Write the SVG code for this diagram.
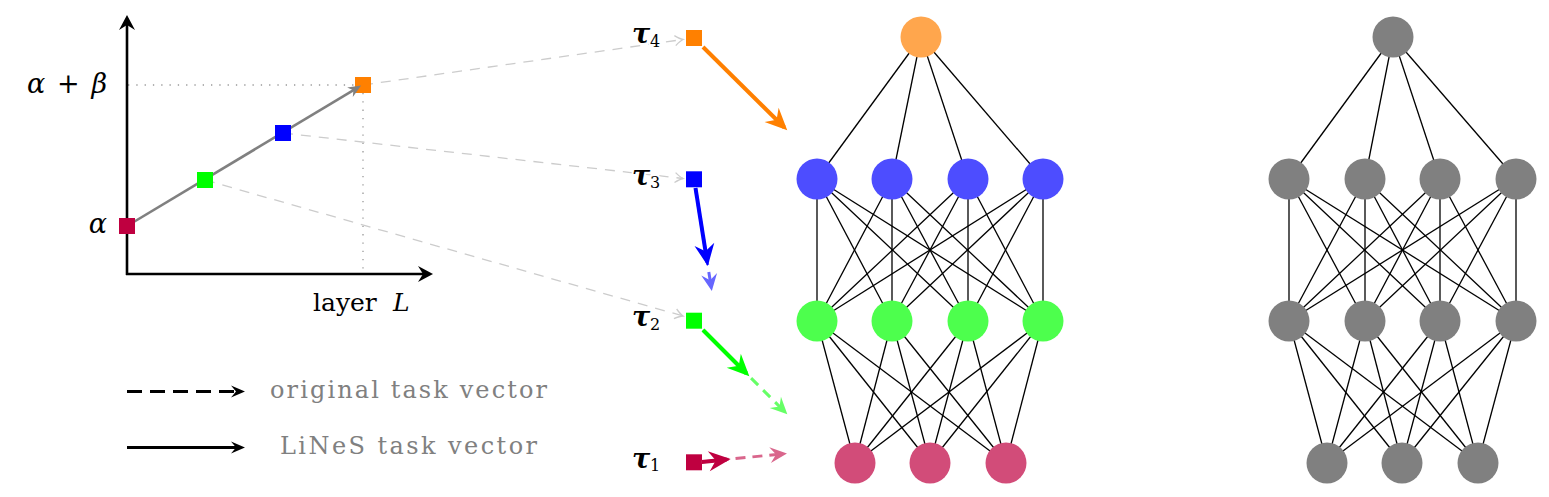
<svg xmlns="http://www.w3.org/2000/svg" width="1549" height="497" viewBox="0 0 1549 497">
<style>
text{font-family:"DejaVu Serif","Liberation Serif",serif;}
.math{font-style:italic;font-size:27px;fill:#000;}
.lbl{font-size:25px;fill:#000;}
.leg{font-size:24px;fill:#808080;}
.tau{font-style:italic;font-weight:bold;font-size:27px;fill:#000;stroke:#fff;stroke-width:4px;paint-order:stroke;stroke-linejoin:round;}
.sub{font-style:normal;font-weight:normal;font-size:16px;}
.dot{stroke:#999;stroke-width:1.3;stroke-dasharray:1.3 7;fill:none;}
.conn{stroke:#ccc;stroke-width:1.3;stroke-dasharray:10 8;fill:none;marker-end:url(#chev);}
.axis{stroke:#000;stroke-width:2.6;fill:none;marker-end:url(#headK);}
.e{stroke:#000;stroke-width:1.3;}
.nb{fill:#4D4DFF;}.ng{fill:#4DFF4D;}.np{fill:#D24C79;}.no{fill:#FFA64D;}.nx{fill:#808080;}
</style>
<defs>
<marker id="headK" viewBox="-20 -10 22 20" refX="-4" refY="0" markerWidth="22" markerHeight="20" markerUnits="userSpaceOnUse" orient="auto"><path d="M0,0 L-15,-8 L-10,0 L-15,8 Z" fill="#000"/></marker>
<marker id="headL" viewBox="-20 -10 22 20" refX="-4" refY="0" markerWidth="22" markerHeight="20" markerUnits="userSpaceOnUse" orient="auto"><path d="M0,0 L-14,-6 L-9,0 L-14,6 Z" fill="#000"/></marker>
<marker id="headG" viewBox="-20 -10 22 20" refX="-4" refY="0" markerWidth="22" markerHeight="20" markerUnits="userSpaceOnUse" orient="auto"><path d="M0,0 L-13,-5.5 L-9,0 L-13,5.5 Z" fill="#808080"/></marker>
<marker id="chev" viewBox="-12 -8 14 16" refX="0" refY="0" markerWidth="14" markerHeight="16" markerUnits="userSpaceOnUse" orient="auto"><path d="M-8,-5 Q-3,-1 0,0 Q-3,1 -8,5" fill="none" stroke="#ccc" stroke-width="1.3" stroke-dasharray="none"/></marker>
<marker id="hOr" viewBox="-26 -12 28 24" refX="-4" refY="0" markerWidth="28" markerHeight="24" markerUnits="userSpaceOnUse" orient="auto"><path d="M0,0 L-22,-10 L-15,0 L-22,10 Z" fill="#FF8000"/></marker>
<marker id="hBl" viewBox="-26 -12 28 24" refX="-4" refY="0" markerWidth="28" markerHeight="24" markerUnits="userSpaceOnUse" orient="auto"><path d="M0,0 L-22,-10 L-15,0 L-22,10 Z" fill="#0000FF"/></marker>
<marker id="hGr" viewBox="-26 -12 28 24" refX="-4" refY="0" markerWidth="28" markerHeight="24" markerUnits="userSpaceOnUse" orient="auto"><path d="M0,0 L-22,-10 L-15,0 L-22,10 Z" fill="#00FF00"/></marker>
<marker id="hRd" viewBox="-26 -12 28 24" refX="-4" refY="0" markerWidth="28" markerHeight="24" markerUnits="userSpaceOnUse" orient="auto"><path d="M0,0 L-22,-10 L-15,0 L-22,10 Z" fill="#BF0040"/></marker>
<marker id="hBl2" viewBox="-24 -12 26 24" refX="-4" refY="0" markerWidth="26" markerHeight="24" markerUnits="userSpaceOnUse" orient="auto"><path d="M0,0 L-17,-8 L-11,0 L-17,8 Z" fill="#6666FF"/></marker>
<marker id="hGr2" viewBox="-24 -12 26 24" refX="-4" refY="0" markerWidth="26" markerHeight="24" markerUnits="userSpaceOnUse" orient="auto"><path d="M0,0 L-17,-8 L-11,0 L-17,8 Z" fill="#66FF66"/></marker>
<marker id="hRd2" viewBox="-24 -12 26 24" refX="-4" refY="0" markerWidth="26" markerHeight="24" markerUnits="userSpaceOnUse" orient="auto"><path d="M0,0 L-17,-8 L-11,0 L-17,8 Z" fill="#D9668C"/></marker>
</defs>

<g id="plot">
<line class="dot" x1="128" y1="85" x2="355" y2="85"/>
<line class="dot" x1="363" y1="93" x2="363" y2="274"/>
<g id="connectors-plot">
<line class="conn" x1="363" y1="85" x2="683" y2="39.5"/>
<line class="conn" x1="283" y1="133" x2="683" y2="178.5"/>
<line class="conn" x1="205" y1="180" x2="683" y2="316"/>
</g>
<line class="axis" x1="127" y1="275" x2="127" y2="19"/>
<line class="axis" x1="126" y1="274" x2="429" y2="274"/>
<rect id="sq-orange" x="355" y="77" width="16" height="16" fill="#FF8000"/>
<line x1="127" y1="226" x2="357.7" y2="87.6" stroke="#808080" stroke-width="2.6" marker-end="url(#headG)"/>
<rect id="sq-red" x="119" y="218" width="16" height="16" fill="#BF0040"/>
<rect id="sq-green" x="197" y="172" width="16" height="16" fill="#00FF00"/>
<rect id="sq-blue" x="275" y="125" width="16" height="16" fill="#0000FF"/>
<text class="math" x="27" y="93" textLength="80">α <tspan font-style="normal">+</tspan> β</text>
<text class="math" x="107" y="233" text-anchor="end">α</text>
<text class="lbl" x="313" y="311">layer<tspan x="393" font-style="italic">L</tspan></text>
</g>

<g id="legend">
<line x1="127" y1="391.5" x2="241" y2="391.5" stroke="#000" stroke-width="2.8" stroke-dasharray="15 8" marker-end="url(#headL)"/>
<text class="leg" x="270" y="398" textLength="277">original task vector</text>
<line x1="127" y1="447.5" x2="241" y2="447.5" stroke="#000" stroke-width="2.8" marker-end="url(#headL)"/>
<text class="leg" x="280" y="454" textLength="257">LiNeS task vector</text>
</g>

<g id="tau4">
<text class="tau" x="632" y="43.2">τ<tspan class="sub" x="650" y="46.7">4</tspan></text>
<rect x="686" y="30" width="16" height="16" fill="#FF8000"/>
</g>
<g id="tau3">
<text class="tau" x="632" y="184.8">τ<tspan class="sub" x="650" y="188.3">3</tspan></text>
<rect x="686" y="171.3" width="16" height="16" fill="#0000FF"/>
</g>
<g id="tau2">
<text class="tau" x="632" y="326.2">τ<tspan class="sub" x="650" y="329.7">2</tspan></text>
<rect x="686" y="312.7" width="16" height="16" fill="#00FF00"/>
</g>
<g id="tau1">
<text class="tau" x="632" y="467.8">τ<tspan class="sub" x="650" y="471.3">1</tspan></text>
<rect x="686" y="454.3" width="16" height="16" fill="#BF0040"/>
</g>

<g id="task-vectors">
<line x1="703" y1="47" x2="784.4" y2="127.5" stroke="#FF8000" stroke-width="4" marker-end="url(#hOr)"/>
<line x1="695.5" y1="188" x2="711.2" y2="287.1" stroke="#6666FF" stroke-width="3" stroke-dasharray="10 7" marker-end="url(#hBl2)"/>
<line x1="695.5" y1="188" x2="707.2" y2="262.1" stroke="#0000FF" stroke-width="4" marker-end="url(#hBl)"/>
<line x1="703" y1="330" x2="784.5" y2="411.5" stroke="#66FF66" stroke-width="3" stroke-dasharray="10 7" marker-end="url(#hGr2)"/>
<line x1="703" y1="330" x2="746.5" y2="373.5" stroke="#00FF00" stroke-width="4" marker-end="url(#hGr)"/>
<line x1="701.7" y1="462" x2="783" y2="453.8" stroke="#D9668C" stroke-width="3" stroke-dasharray="10 7" marker-end="url(#hRd2)"/>
<line x1="701.7" y1="462" x2="726.7" y2="459.5" stroke="#BF0040" stroke-width="4" marker-end="url(#hRd)"/>
</g>

<g id="edges-left">
<line class="e" x1="921" y1="37" x2="817" y2="179"/><line class="e" x1="921" y1="37" x2="892" y2="179"/><line class="e" x1="921" y1="37" x2="968" y2="179"/><line class="e" x1="921" y1="37" x2="1043" y2="179"/>
<line class="e" x1="817" y1="179" x2="817" y2="321"/><line class="e" x1="817" y1="179" x2="892" y2="321"/><line class="e" x1="817" y1="179" x2="968" y2="321"/><line class="e" x1="817" y1="179" x2="1043" y2="321"/>
<line class="e" x1="892" y1="179" x2="817" y2="321"/><line class="e" x1="892" y1="179" x2="892" y2="321"/><line class="e" x1="892" y1="179" x2="968" y2="321"/><line class="e" x1="892" y1="179" x2="1043" y2="321"/>
<line class="e" x1="968" y1="179" x2="817" y2="321"/><line class="e" x1="968" y1="179" x2="892" y2="321"/><line class="e" x1="968" y1="179" x2="968" y2="321"/><line class="e" x1="968" y1="179" x2="1043" y2="321"/>
<line class="e" x1="1043" y1="179" x2="817" y2="321"/><line class="e" x1="1043" y1="179" x2="892" y2="321"/><line class="e" x1="1043" y1="179" x2="968" y2="321"/><line class="e" x1="1043" y1="179" x2="1043" y2="321"/>
<line class="e" x1="817" y1="321" x2="855" y2="463"/><line class="e" x1="817" y1="321" x2="930" y2="463"/><line class="e" x1="817" y1="321" x2="1006" y2="463"/>
<line class="e" x1="892" y1="321" x2="855" y2="463"/><line class="e" x1="892" y1="321" x2="930" y2="463"/><line class="e" x1="892" y1="321" x2="1006" y2="463"/>
<line class="e" x1="968" y1="321" x2="855" y2="463"/><line class="e" x1="968" y1="321" x2="930" y2="463"/><line class="e" x1="968" y1="321" x2="1006" y2="463"/>
<line class="e" x1="1043" y1="321" x2="855" y2="463"/><line class="e" x1="1043" y1="321" x2="930" y2="463"/><line class="e" x1="1043" y1="321" x2="1006" y2="463"/>
</g>
<g id="edges-right">
<line class="e" x1="1393" y1="37" x2="1289" y2="179"/><line class="e" x1="1393" y1="37" x2="1365" y2="179"/><line class="e" x1="1393" y1="37" x2="1440" y2="179"/><line class="e" x1="1393" y1="37" x2="1516" y2="179"/>
<line class="e" x1="1289" y1="179" x2="1289" y2="321"/><line class="e" x1="1289" y1="179" x2="1365" y2="321"/><line class="e" x1="1289" y1="179" x2="1440" y2="321"/><line class="e" x1="1289" y1="179" x2="1516" y2="321"/>
<line class="e" x1="1365" y1="179" x2="1289" y2="321"/><line class="e" x1="1365" y1="179" x2="1365" y2="321"/><line class="e" x1="1365" y1="179" x2="1440" y2="321"/><line class="e" x1="1365" y1="179" x2="1516" y2="321"/>
<line class="e" x1="1440" y1="179" x2="1289" y2="321"/><line class="e" x1="1440" y1="179" x2="1365" y2="321"/><line class="e" x1="1440" y1="179" x2="1440" y2="321"/><line class="e" x1="1440" y1="179" x2="1516" y2="321"/>
<line class="e" x1="1516" y1="179" x2="1289" y2="321"/><line class="e" x1="1516" y1="179" x2="1365" y2="321"/><line class="e" x1="1516" y1="179" x2="1440" y2="321"/><line class="e" x1="1516" y1="179" x2="1516" y2="321"/>
<line class="e" x1="1289" y1="321" x2="1327" y2="463"/><line class="e" x1="1289" y1="321" x2="1402" y2="463"/><line class="e" x1="1289" y1="321" x2="1478" y2="463"/>
<line class="e" x1="1365" y1="321" x2="1327" y2="463"/><line class="e" x1="1365" y1="321" x2="1402" y2="463"/><line class="e" x1="1365" y1="321" x2="1478" y2="463"/>
<line class="e" x1="1440" y1="321" x2="1327" y2="463"/><line class="e" x1="1440" y1="321" x2="1402" y2="463"/><line class="e" x1="1440" y1="321" x2="1478" y2="463"/>
<line class="e" x1="1516" y1="321" x2="1327" y2="463"/><line class="e" x1="1516" y1="321" x2="1402" y2="463"/><line class="e" x1="1516" y1="321" x2="1478" y2="463"/>
</g>

<g id="L-out"><circle class="no" cx="921" cy="37" r="20.5"/></g>
<g id="L-h1a"><circle class="nb" cx="817" cy="179" r="20.5"/></g>
<g id="L-h1b"><circle class="nb" cx="892" cy="179" r="20.5"/></g>
<g id="L-h1c"><circle class="nb" cx="968" cy="179" r="20.5"/></g>
<g id="L-h1d"><circle class="nb" cx="1043" cy="179" r="20.5"/></g>
<g id="L-h2a"><circle class="ng" cx="817" cy="321" r="20.5"/></g>
<g id="L-h2b"><circle class="ng" cx="892" cy="321" r="20.5"/></g>
<g id="L-h2c"><circle class="ng" cx="968" cy="321" r="20.5"/></g>
<g id="L-h2d"><circle class="ng" cx="1043" cy="321" r="20.5"/></g>
<g id="L-ina"><circle class="np" cx="855" cy="463" r="20.5"/></g>
<g id="L-inb"><circle class="np" cx="930" cy="463" r="20.5"/></g>
<g id="L-inc"><circle class="np" cx="1006" cy="463" r="20.5"/></g>

<g id="R-out"><circle class="nx" cx="1393" cy="37" r="20.5"/></g>
<g id="R-h1a"><circle class="nx" cx="1289" cy="179" r="20.5"/></g>
<g id="R-h1b"><circle class="nx" cx="1365" cy="179" r="20.5"/></g>
<g id="R-h1c"><circle class="nx" cx="1440" cy="179" r="20.5"/></g>
<g id="R-h1d"><circle class="nx" cx="1516" cy="179" r="20.5"/></g>
<g id="R-h2a"><circle class="nx" cx="1289" cy="321" r="20.5"/></g>
<g id="R-h2b"><circle class="nx" cx="1365" cy="321" r="20.5"/></g>
<g id="R-h2c"><circle class="nx" cx="1440" cy="321" r="20.5"/></g>
<g id="R-h2d"><circle class="nx" cx="1516" cy="321" r="20.5"/></g>
<g id="R-ina"><circle class="nx" cx="1327" cy="463" r="20.5"/></g>
<g id="R-inb"><circle class="nx" cx="1402" cy="463" r="20.5"/></g>
<g id="R-inc"><circle class="nx" cx="1478" cy="463" r="20.5"/></g>
</svg>
